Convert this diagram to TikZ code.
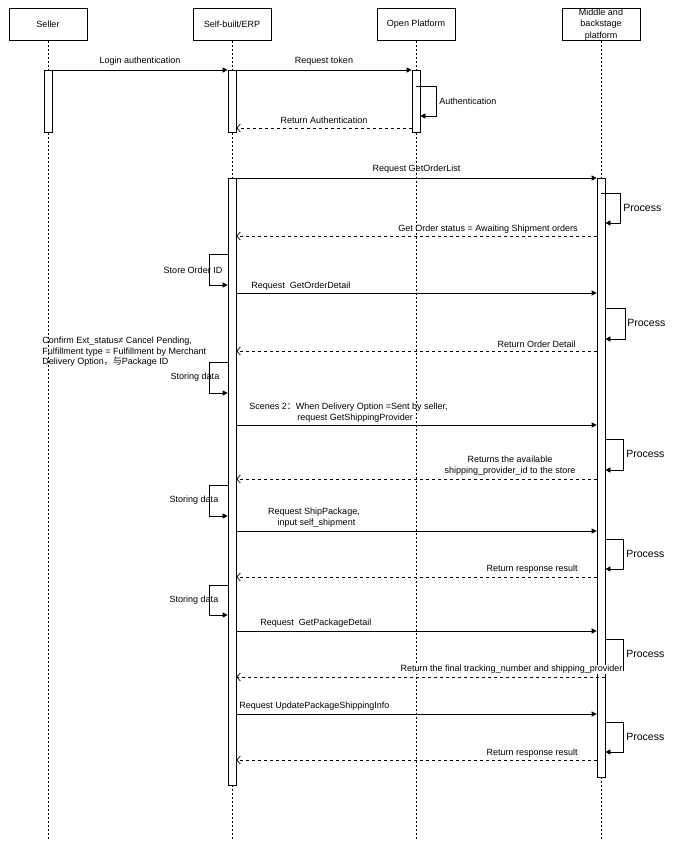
\documentclass[tikz,border=0pt]{standalone}
\usepackage{fontspec}
\setmainfont{Liberation Sans}
\newfontfamily\cjk{Noto Sans CJK SC}
\usetikzlibrary{arrows.meta}
\begin{document}
\begin{tikzpicture}[x=1pt,y=-1pt,
  hdr/.style={draw, minimum width=78pt, minimum height=32pt, anchor=north, font=\fontsize{9}{11.5}\selectfont, align=center, inner sep=0pt},
  actbox/.style={draw, fill=white, minimum width=8pt, inner sep=0pt, anchor=north},
  life/.style={dash pattern=on 2pt off 2pt},
  msg/.style={-{Triangle[length=5pt,width=5pt]}},
  ret/.style={dash pattern=on 3pt off 3pt, -{Straight Barb[length=3.5pt,width=8pt]}},
  lbl/.style={font=\fontsize{9}{11}\selectfont, inner sep=0pt},
  proc/.style={font=\fontsize{10.5}{12}\selectfont, inner sep=0pt, anchor=west},
  line width=0.7pt]
\useasboundingbox (0,0) rectangle (674,848);
% headers
\node[hdr] (seller) at (48,8) {Seller};
\node[hdr] (erp) at (232,8) {Self-built/ERP};
\node[hdr] (open) at (416,8) {Open Platform};
\node[hdr] (mid) at (601,8) {Middle and\\backstage\\platform};
% lifelines
\coordinate (sellerE) at (48,840);
\coordinate (erpE) at (232,840);
\coordinate (openE) at (416,840);
\coordinate (midE) at (601,840);
\draw[life] (seller.south) -- (sellerE);
\draw[life] (erp.south) -- (erpE);
\draw[life] (open.south) -- (openE);
\draw[life] (mid.south) -- (midE);
% activations
\node[actbox, minimum height=62pt] (sa) at (48,70) {};
\node[actbox, minimum height=62pt] (ea) at (232,70) {};
\node[actbox, minimum height=62pt] (oa) at (416,70) {};
\node[actbox, minimum height=607pt] (eb) at (232,178) {};
\node[actbox, minimum height=599pt] (mb) at (601,178) {};

% phase 1
\draw[msg] (sa.north east) -- (ea.north west) node[lbl, midway, above=4pt] {Login authentication};
\draw[msg] (ea.north east) -- (oa.north west) node[lbl, midway, above=4pt] {Request token};
\draw[msg] (oa.north |- 0,86) -- (436,86) -- (436,116) -- (oa.east |- 0,116);
\node[lbl, anchor=west] (authl) at (439,101) {Authentication};
\draw[ret] (oa.west |- 0,128) -- (ea.east |- 0,128) node[lbl, midway, above=4pt] {Return Authentication};

% GetOrderList
\draw[msg] (eb.north east) -- (mb.north west) node[lbl, midway, above=4pt] {Request GetOrderList};
\draw[msg] (mb.north |- 0,193) -- (620,193) -- (620,223) -- (mb.east |- 0,223);
\node[proc] (p1) at (623,208) {Process};
\draw[ret] (mb.west |- 0,236) -- (eb.east |- 0,236);
\node[lbl, anchor=east] (l1) at (578,229) {Get Order status = Awaiting Shipment orders};
% store order id
\draw[msg] (eb.west |- 0,254) -- (209,254) -- (209,285) -- (eb.west |- 0,285);
\node[lbl] (l2) at (193,270) {Store Order ID};
% GetOrderDetail
\draw[msg] (eb.east |- 0,293) -- (mb.west |- 0,293);
\node[lbl, anchor=west] (l3) at (251,286) {Request\ \ GetOrderDetail};
\draw[msg] (mb.east |- 0,308) -- (625,308) -- (625,339) -- (mb.east |- 0,339);
\node[proc] (p2) at (627,323) {Process};
\draw[ret] (mb.west |- 0,351) -- (eb.east |- 0,351);
\node[lbl, anchor=east] (l4) at (576,344) {Return Order Detail};
\node[lbl, anchor=north west, align=left, font=\fontsize{9}{10.5}\selectfont] (conf) at (42,337) {Confirm Ext\_status≠ Cancel Pending,\\Fulfillment type = Fulfillment by Merchant\\Delivery Option{\cjk，与}Package ID};
% storing data 1
\draw[msg] (eb.west |- 0,362) -- (209,362) -- (209,393) -- (eb.west |- 0,393);
\node[lbl] (l5) at (195,377) {Storing data};
% Scenes 2
\draw[msg] (eb.east |- 0,425) -- (mb.west |- 0,425);
\node[lbl, anchor=west] (l6) at (249,407) {Scenes 2{\cjk：}When Delivery Option =Sent by seller,};
\node[lbl, anchor=west] (l6b) at (297,418) {request GetShippingProvider};
\draw[msg] (mb.east |- 0,439) -- (623,439) -- (623,470) -- (mb.east |- 0,470);
\node[proc] (p3) at (626,454) {Process};
\draw[ret] (mb.west |- 0,479) -- (eb.east |- 0,479);
\node[lbl, align=center] (l7) at (510,466) {Returns the available\\shipping\_provider\_id to the store};
% storing data 2
\draw[msg] (eb.west |- 0,485) -- (209,485) -- (209,516) -- (eb.west |- 0,516);
\node[lbl] (l8) at (194,500) {Storing data};
% ShipPackage
\draw[msg] (eb.east |- 0,531) -- (mb.west |- 0,531);
\node[lbl, align=center] (l9) at (314,518) {Request ShipPackage,\\\ \ input self\_shipment};
\draw[msg] (mb.east |- 0,539) -- (623,539) -- (623,569) -- (mb.east |- 0,569);
\node[proc] (p4) at (626,554) {Process};
\draw[ret] (mb.west |- 0,577) -- (eb.east |- 0,577);
\node[lbl, anchor=east] (l10) at (578,569) {Return response result};
% storing data 3
\draw[msg] (eb.west |- 0,585) -- (209,585) -- (209,615) -- (eb.west |- 0,615);
\node[lbl] (l11) at (194,600) {Storing data};
% GetPackageDetail
\draw[msg] (eb.east |- 0,631) -- (mb.west |- 0,631);
\node[lbl, anchor=west] (l12) at (260,623) {Request\ \ GetPackageDetail};
\draw[msg] (mb.east |- 0,639) -- (623,639) -- (623,670) -- (mb.east |- 0,670);
\node[proc] (p5) at (626,654) {Process};
\draw[ret] (mb.east |- 0,677) -- (eb.east |- 0,677);
\node[lbl, anchor=east, fill=white, inner sep=0.3pt] (l13) at (623,669) {Return the final tracking\_number and shipping\_provider};
% UpdatePackageShippingInfo
\draw[msg] (eb.east |- 0,714) -- (mb.west |- 0,714);
\node[lbl, anchor=west] (l14) at (239,706) {Request UpdatePackageShippingInfo};
\draw[msg] (mb.east |- 0,722) -- (623,722) -- (623,752) -- (mb.east |- 0,752);
\node[proc] (p6) at (626,737) {Process};
\draw[ret] (mb.west |- 0,760) -- (eb.east |- 0,760);
\node[lbl, anchor=east] (l15) at (578,753) {Return response result};
\end{tikzpicture}
\end{document}
